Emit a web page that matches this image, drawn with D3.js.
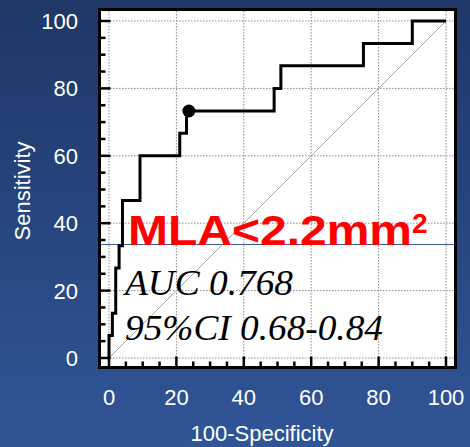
<!DOCTYPE html>
<html>
<head>
<meta charset="utf-8">
<script src="https://cdn.jsdelivr.net/npm/d3@7"></script>
<style>
  html, body { margin: 0; padding: 0; }
  body { width: 470px; height: 447px; overflow: hidden; }
</style>
</head>
<body>
<svg id="chart" width="470" height="447"></svg>
<script>
// ROC curve: (100 - specificity, sensitivity) step points
const fpr = [0, 0, 1, 1, 2, 2, 3, 3, 4, 4, 9.2, 9.2, 21, 21, 23, 23, 49, 49, 51, 51, 75.5, 75.5, 90, 90, 100];
const tpr = [0, 6.67, 6.67, 13.3, 13.3, 26.7, 26.7, 33.3, 33.3, 46.7, 46.7, 60, 60, 66.7, 66.7, 73.3, 73.3, 80, 80, 86.7, 86.7, 93.3, 93.3, 100, 100];
// Optimal cut-off point
const cutX = [23.7];
const cutY = [73.3];
const tickValues = [0, 20, 40, 60, 80, 100];
const minorTicks = d3.range(0, 101, 5);
const title = "MLA<2.2mm";
const statLines = ["AUC 0.768", "95%CI 0.68-0.84"];
const statWidths = [168, 258];

const svg = d3.select("#chart");

// slide background
const defs = svg.append("defs");
const grad = defs.append("linearGradient").attr("id", "bg").attr("x1", 0).attr("y1", 0).attr("x2", 0).attr("y2", 1);
grad.append("stop").attr("offset", "0%").attr("stop-color", "#1e3767");
grad.append("stop").attr("offset", "100%").attr("stop-color", "#305597");
svg.append("rect").attr("width", 470).attr("height", 447).attr("fill", "url(#bg)");

const x = d3.scaleLinear().domain([0, 100]).range([109, 446]);
const y = d3.scaleLinear().domain([0, 100]).range([358, 21]);

// frame
const fx0 = 99.5, fx1 = 455.5, fy0 = 9.5, fy1 = 367.5;
svg.append("rect").attr("x", fx0).attr("y", fy0).attr("width", fx1 - fx0).attr("height", fy1 - fy0)
  .attr("fill", "#ffffff");

// grid
const grid = svg.append("g").attr("stroke", "#8a8a8a").attr("stroke-width", 1).attr("stroke-dasharray", "1.5,1.5");
grid.selectAll(".gx").data(tickValues).join("line")
  .attr("x1", d => x(d)).attr("x2", d => x(d)).attr("y1", fy0 + 1.5).attr("y2", fy1 - 1.5);
grid.selectAll(".gy").data(tickValues).join("line")
  .attr("y1", d => y(d)).attr("y2", d => y(d)).attr("x1", fx0 + 1.5).attr("x2", fx1 - 1.5);

// thin horizontal rule across the panel
svg.append("line").attr("x1", fx0 + 1.5).attr("x2", fx1 - 1.5).attr("y1", 244.5).attr("y2", 244.5)
  .attr("stroke", "#3a5a96").attr("stroke-width", 1.2);

// reference diagonal
svg.append("line").attr("x1", x(0)).attr("y1", y(0)).attr("x2", x(100)).attr("y2", y(100))
  .attr("stroke", "#9a9a9a").attr("stroke-width", 0.9);

// ticks
const ticks = svg.append("g").attr("stroke", "#000").attr("stroke-width", 2.5);
ticks.selectAll(".ty").data(minorTicks).join("line")
  .attr("x1", fx0).attr("x2", d => fx0 + (d % 20 === 0 ? 11 : 6))
  .attr("y1", d => y(d)).attr("y2", d => y(d));
ticks.selectAll(".tx").data(minorTicks).join("line")
  .attr("y1", fy1).attr("y2", d => fy1 - (d % 20 === 0 ? 11 : 6))
  .attr("x1", d => x(d)).attr("x2", d => x(d));

// border
svg.append("rect").attr("x", fx0).attr("y", fy0).attr("width", fx1 - fx0).attr("height", fy1 - fy0)
  .attr("fill", "none").attr("stroke", "#000").attr("stroke-width", 3);

// ROC curve
const pts = fpr.map((v, i) => [v, tpr[i]]);
svg.append("path").datum(pts)
  .attr("d", d3.line().x(d => x(d[0])).y(d => y(d[1])))
  .attr("fill", "none").attr("stroke", "#000").attr("stroke-width", 3).attr("stroke-linejoin", "miter");

svg.selectAll(".cut").data(cutX).join("circle")
  .attr("cx", d => x(d)).attr("cy", (d, i) => y(cutY[i])).attr("r", 6.5).attr("fill", "#000");

// axis labels
const lab = svg.append("g").attr("fill", "#ffffff").attr("font-family", "Liberation Sans, Arial, sans-serif").attr("font-size", 22);
lab.selectAll(".yl").data(tickValues).join("text")
  .attr("x", 78).attr("y", d => y(d)).attr("dy", "0.36em").attr("text-anchor", "end").text(d => d);
lab.selectAll(".xl").data(tickValues).join("text")
  .attr("x", d => x(d)).attr("y", 405).attr("text-anchor", "middle").text(d => d);
lab.append("text").attr("x", 262).attr("y", 441).attr("text-anchor", "middle").text("100-Specificity");
lab.append("text").attr("transform", "translate(30,191) rotate(-90)").attr("text-anchor", "middle").text("Sensitivity");

// annotations
const red = svg.append("g").attr("font-family", "Liberation Sans, Arial, sans-serif")
  .attr("font-weight", "bold").attr("fill", "#ff0000");
red.append("text").attr("x", 128).attr("y", 245).attr("font-size", 43)
  .attr("textLength", 284).attr("lengthAdjust", "spacingAndGlyphs").text(title);
red.append("text").attr("x", 412).attr("y", 233).attr("font-size", 28).text("2");

svg.selectAll(".stat").data(statLines).join("text")
  .attr("x", 125).attr("y", (d, i) => 295 + i * 45)
  .attr("font-family", "Liberation Serif, Times New Roman, serif").attr("font-style", "italic")
  .attr("font-size", 36).attr("fill", "#000")
  .attr("textLength", (d, i) => statWidths[i]).attr("lengthAdjust", "spacingAndGlyphs")
  .text(d => d);
</script>
</body>
</html>
